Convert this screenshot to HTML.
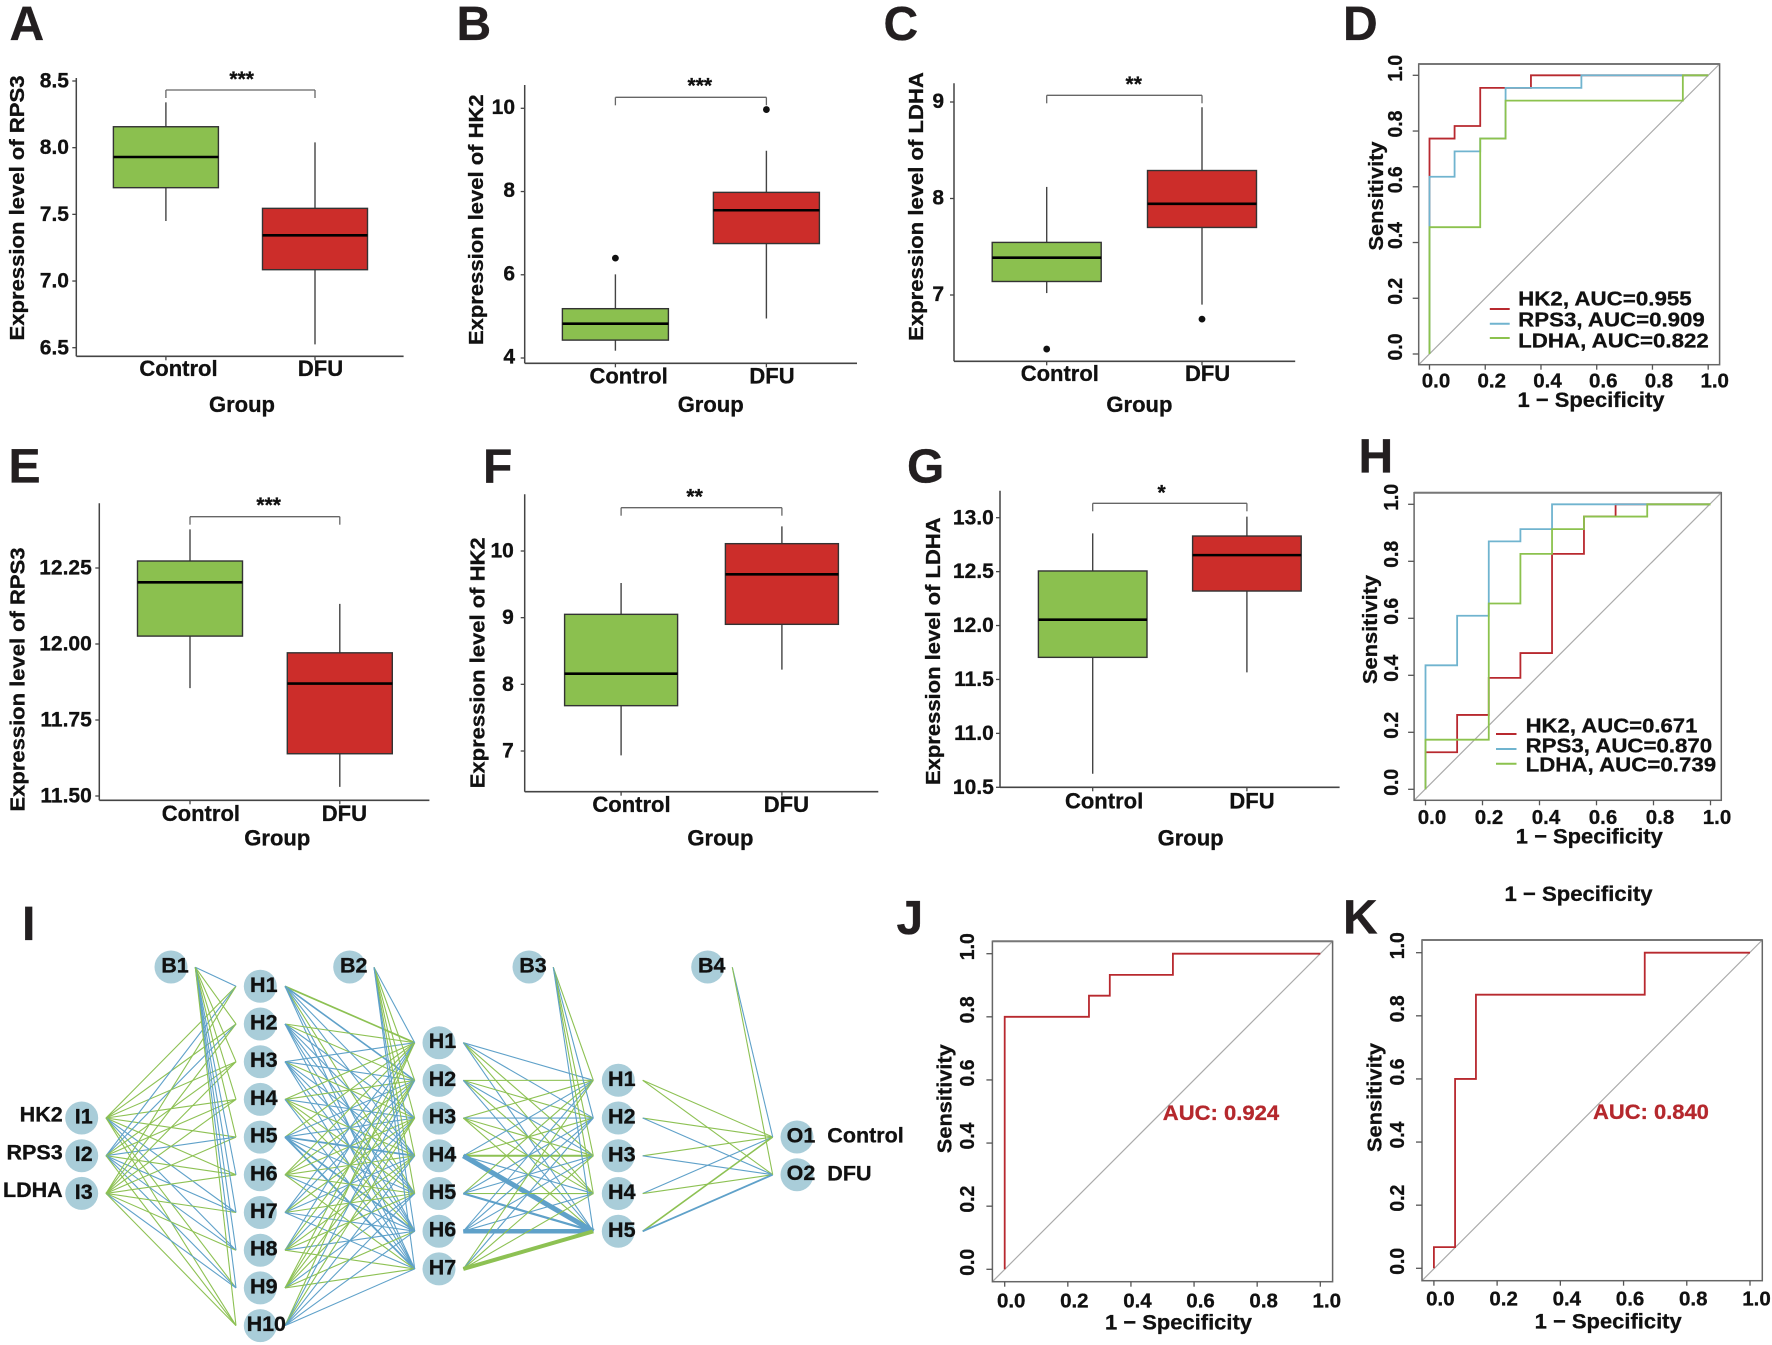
<!DOCTYPE html>
<html lang="en">
<head>
<meta charset="utf-8">
<title>Expression boxplots, ROC curves and neural network</title>
<style>
html,body{margin:0;padding:0;background:#fff;width:1772px;height:1345px;overflow:hidden}
svg{display:block;filter:blur(0.35px)}
text{font-family:"Liberation Sans",Arial,sans-serif;font-weight:700;fill:#111;stroke:#111;stroke-width:0.3px}
</style>
</head>
<body>
<svg id="figure" xmlns="http://www.w3.org/2000/svg" width="1772" height="1345" viewBox="0 0 1772 1345"></svg>
<script>
/* ---------- shared data ---------- */
const categories = ['Control', 'DFU'];

/* box statistics: [whisker low, q1, median, q3, whisker high] */
const panelAControl = [7.45, 7.70, 7.93, 8.157, 8.34];
const panelADfu = [6.525, 7.085, 7.343, 7.545, 8.04];
const panelATicks = [6.5, 7.0, 7.5, 8.0, 8.5];
const panelATickLabels = ['6.5', '7.0', '7.5', '8.0', '8.5'];

const panelBControl = [4.175, 4.43, 4.825, 5.185, 6.01];
const panelBDfu = [4.95, 6.75, 7.55, 7.98, 8.98];
const panelBControlOutliers = [6.40];
const panelBDfuOutliers = [9.97];
const panelBTicks = [4, 6, 8, 10];
const panelBTickLabels = ['4', '6', '8', '10'];

const panelCControl = [7.02, 7.14, 7.387, 7.545, 8.12];
const panelCDfu = [6.90, 7.70, 7.945, 8.29, 8.945];
const panelCControlOutliers = [6.44];
const panelCDfuOutliers = [6.75];
const panelCTicks = [7, 8, 9];
const panelCTickLabels = ['7', '8', '9'];

const panelEControl = [11.855, 12.026, 12.203, 12.273, 12.377];
const panelEDfu = [11.53, 11.639, 11.87, 11.971, 12.132];
const panelETicks = [11.5, 11.75, 12, 12.25];
const panelETickLabels = ['11.50', '11.75', '12.00', '12.25'];

const panelFControl = [6.935, 7.68, 8.16, 9.05, 9.52];
const panelFDfu = [8.22, 8.9, 9.65, 10.11, 10.37];
const panelFTicks = [7, 8, 9, 10];
const panelFTickLabels = ['7', '8', '9', '10'];

const panelGControl = [10.626, 11.705, 12.054, 12.506, 12.855];
const panelGDfu = [11.566, 12.32, 12.653, 12.83, 13.01];
const panelGTicks = [10.5, 11, 11.5, 12, 12.5, 13];
const panelGTickLabels = ['10.5', '11.0', '11.5', '12.0', '12.5', '13.0'];

/* ROC data */
const rocTicks = [0, 0.2, 0.4, 0.6, 0.8, 1.0];
const rocTickLabels = ['0.0', '0.2', '0.4', '0.6', '0.8', '1.0'];

const rocDHk2Fpr = [0, 0, 0.09, 0.09, 0.182, 0.182, 0.364, 0.364, 1];
const rocDHk2Tpr = [0, 0.773, 0.773, 0.818, 0.818, 0.955, 0.955, 1, 1];
const rocDRps3Fpr = [0, 0, 0.09, 0.09, 0.182, 0.182, 0.273, 0.273, 0.545, 0.545, 1];
const rocDRps3Tpr = [0, 0.636, 0.636, 0.727, 0.727, 0.773, 0.773, 0.955, 0.955, 1, 1];
const rocDLdhaFpr = [0, 0, 0.182, 0.182, 0.273, 0.273, 0.909, 0.909, 1];
const rocDLdhaTpr = [0, 0.455, 0.455, 0.773, 0.773, 0.909, 0.909, 1, 1];

const rocHHk2Fpr = [0, 0, 0.111, 0.111, 0.222, 0.222, 0.333, 0.333, 0.444, 0.444, 0.556, 0.556, 0.667, 0.667, 1];
const rocHHk2Tpr = [0, 0.13, 0.13, 0.261, 0.261, 0.391, 0.391, 0.478, 0.478, 0.826, 0.826, 0.957, 0.957, 1, 1];
const rocHRps3Fpr = [0, 0, 0.111, 0.111, 0.222, 0.222, 0.333, 0.333, 0.444, 0.444, 1];
const rocHRps3Tpr = [0, 0.435, 0.435, 0.609, 0.609, 0.87, 0.87, 0.913, 0.913, 1, 1];
const rocHLdhaFpr = [0, 0, 0.222, 0.222, 0.333, 0.333, 0.444, 0.444, 0.556, 0.556, 0.778, 0.778, 1];
const rocHLdhaTpr = [0, 0.174, 0.174, 0.652, 0.652, 0.826, 0.826, 0.913, 0.913, 0.957, 0.957, 1, 1];

const rocJFpr = [0, 0, 0.267, 0.267, 0.333, 0.333, 0.533, 0.533, 1];
const rocJTpr = [0, 0.8, 0.8, 0.867, 0.867, 0.933, 0.933, 1, 1];
const rocKFpr = [0, 0, 0.067, 0.067, 0.133, 0.133, 0.667, 0.667, 1];
const rocKTpr = [0, 0.067, 0.067, 0.6, 0.6, 0.867, 0.867, 1, 1];

/* Network: one string per source node, one letter per target (g = green, b = blue) */
const inputNames = ['I1', 'I2', 'I3'];
const inputGenes = ['HK2', 'RPS3', 'LDHA'];
const hidden1Names = ['H1', 'H2', 'H3', 'H4', 'H5', 'H6', 'H7', 'H8', 'H9', 'H10'];
const hidden2Names = ['H1', 'H2', 'H3', 'H4', 'H5', 'H6', 'H7'];
const hidden3Names = ['H1', 'H2', 'H3', 'H4', 'H5'];
const outputNames = ['O1', 'O2'];
const outputClasses = ['Control', 'DFU'];
const biasNames = ['B1', 'B2', 'B3', 'B4'];

const linksInputHidden1 = ['ggggggbbgg', 'bbggbgbbbg', 'ggggggggbg'];
const linksBias1Hidden1 = 'bggggbbbbg';
const linksHidden1Hidden2 = ['gbbbgbb', 'ggbbbbb', 'bbgbbbb', 'ggbgggb', 'gbbbbbb', 'gggggbg', 'bbgbgbb', 'bgbggbg', 'ggggbgg', 'gbgbbbb'];
const linksBias2Hidden2 = 'bggggbb';
const linksHidden2Hidden3 = ['bbggb', 'ggbgb', 'gbggg', 'bggbb', 'gbbgb', 'bbbbb', 'gbggg'];
const linksBias3Hidden3 = 'gbggb';
const linksHidden3Output = ['gg', 'gb', 'gb', 'bg', 'gb'];
const linksBias4Output = 'bg';
/* source index, target index, stroke weight */
const thickHidden2Hidden3 = [[3, 4, 5], [5, 4, 4.5], [6, 4, 4], [4, 4, 2.2], [3, 2, 2]];
const thickHidden1Hidden2 = [[4, 3, 1.8], [4, 5, 1.8], [4, 6, 1.8], [0, 0, 1.7], [0, 1, 1.6]];
const thickHidden3Output = [[4, 0, 1.6], [4, 1, 1.8]];

/* ---------- helpers ---------- */
const svgNS = 'http://www.w3.org/2000/svg';
const root = document.getElementById('figure');
const colGreen = '#8bc04f';
const colRed = '#cc2d2a';
const colRocRed = '#b8292f';
const colRocBlue = '#70b4cf';
const colRocGreen = '#8cc24e';
const colEdgeGreen = '#8dc153';
const colEdgeBlue = '#5fa1c9';
const colAxis = '#444';

function group(parent, name) {
  const el = document.createElementNS(svgNS, 'g');
  
  
  parent.appendChild(el);
  return el;
}
function line(parent, name, x1, y1, x2, y2, stroke, w) {
  const el = document.createElementNS(svgNS, 'line');
  
  
  el.setAttribute('x1', x1);
  el.setAttribute('y1', y1);
  el.setAttribute('x2', x2);
  el.setAttribute('y2', y2);
  el.setAttribute('stroke', stroke);
  el.setAttribute('stroke-width', w);
  parent.appendChild(el);
  return el;
}
function rect(parent, name, x, y, w, h, fill, stroke, sw) {
  const el = document.createElementNS(svgNS, 'rect');
  
  
  el.setAttribute('x', x);
  el.setAttribute('y', y);
  el.setAttribute('width', w);
  el.setAttribute('height', h);
  el.setAttribute('fill', fill);
  el.setAttribute('stroke', stroke);
  el.setAttribute('stroke-width', sw);
  parent.appendChild(el);
  return el;
}
function circle(parent, name, cx, cy, r, fill) {
  const el = document.createElementNS(svgNS, 'circle');
  
  
  el.setAttribute('cx', cx);
  el.setAttribute('cy', cy);
  el.setAttribute('r', r);
  el.setAttribute('fill', fill);
  parent.appendChild(el);
  return el;
}
/* horizontal text: yc is visual centre */
function label(parent, name, str, x, yc, size, anchor, len, fill) {
  const el = document.createElementNS(svgNS, 'text');
  
  
  el.setAttribute('x', x);
  el.setAttribute('y', yc + 0.36 * size);
  el.setAttribute('font-size', size);
  el.setAttribute('text-anchor', anchor || 'middle');
  if (len) {
    el.setAttribute('textLength', len);
    el.setAttribute('lengthAdjust', 'spacingAndGlyphs');
  }
  if (fill) {
    el.style.fill = fill;
    el.style.stroke = fill;
  }
  el.textContent = str;
  parent.appendChild(el);
  return el;
}
/* rotated -90 text centred at (xc, yc) */
function vlabel(parent, name, str, xc, yc, size, len, base) {
  const el = document.createElementNS(svgNS, 'text');
  
  
  el.setAttribute('transform', 'translate(' + xc + ' ' + yc + ') rotate(-90)');
  el.setAttribute('x', 0);
  el.setAttribute('y', base * size);
  el.setAttribute('font-size', size);
  el.setAttribute('text-anchor', 'middle');
  if (len) {
    el.setAttribute('textLength', len);
    el.setAttribute('lengthAdjust', 'spacingAndGlyphs');
  }
  el.textContent = str;
  parent.appendChild(el);
  return el;
}
function panelLetter(str, x, baseline) {
  const el = document.createElementNS(svgNS, 'text');
  
  
  el.setAttribute('x', x);
  el.setAttribute('y', baseline);
  el.setAttribute('font-size', 48);
  el.style.fill = '#231f20';
  el.style.stroke = '#231f20';
  el.textContent = str;
  root.appendChild(el);
}
function linearScale(d0, d1, r0, r1) {
  return function (v) { return r0 + (v - d0) * (r1 - r0) / (d1 - d0); };
}

/* ---------- box plot panel ---------- */
function drawBox(g, name, stats, cx, w, fill, y) {
  line(g, name + '-whisker', cx, y(stats[0]), cx, y(stats[4]), colAxis, 1.4);
  rect(g, name + '-box', cx - w / 2, y(stats[3]), w, y(stats[1]) - y(stats[3]), fill, '#333', 1.4);
  line(g, name + '-median', cx - w / 2, y(stats[2]), cx + w / 2, y(stats[2]), '#000', 2.6);
}
function drawBoxPanel(p) {
  const g = group(root, 'boxplot-panel-' + p.id);
  const y = linearScale(p.d0, p.d1, p.r0, p.r1);
  const catX = linearScale(0, 1, p.c0, p.c1);
  line(g, 'y-axis', p.axisX, p.top, p.axisX, p.bottom, colAxis, 1.5);
  line(g, 'x-axis', p.axisX, p.bottom, p.right, p.bottom, colAxis, 1.7);
  p.ticks.forEach(function (t, i) {
    line(g, 'y-tick', p.axisX - 4, y(t), p.axisX, y(t), colAxis, 1.3);
    label(g, 'y-tick-label', p.tickLabels[i], p.tickRight, y(t) - p.labelLift, 21, 'end');
  });
  categories.forEach(function (c, i) {
    line(g, 'x-tick', catX(i), p.bottom, catX(i), p.bottom + 4, colAxis, 1.3);
    label(g, 'x-tick-label', c, p.catLabelX[i], p.catLabelY, 22, 'middle');
  });
  label(g, 'x-axis-title', 'Group', p.groupX, p.groupY, 22, 'middle');
  vlabel(g, 'y-axis-title', p.title, p.titleX, p.titleY, 20, p.titleLen, 0.26);
  drawBox(g, 'control', p.control, catX(0), p.boxW, colGreen, y);
  drawBox(g, 'dfu', p.dfu, catX(1), p.boxW, colRed, y);
  (p.controlOut || []).forEach(function (v) {
    circle(g, 'control-outlier', catX(0), y(v), 3.4, '#111');
  });
  (p.dfuOut || []).forEach(function (v) {
    circle(g, 'dfu-outlier', catX(1), y(v), 3.4, '#111');
  });
  line(g, 'bracket-top', catX(0), p.brY, catX(1), p.brY, '#666', 1.3);
  line(g, 'bracket-left', catX(0), p.brY, catX(0), p.brY + 8, '#666', 1.3);
  line(g, 'bracket-right', catX(1), p.brY, catX(1), p.brY + 8, '#666', 1.3);
  const stars = label(g, 'significance-stars', p.stars, p.starX, p.starY, 21, 'middle');
  stars.setAttribute('y', p.starY + 10);
}

drawBoxPanel({id: 'a', control: panelAControl, dfu: panelADfu, ticks: panelATicks, tickLabels: panelATickLabels, labelLift: 1,
  d0: 6.5, d1: 8.5, r0: 347.7, r1: 81, axisX: 76.3, top: 78, bottom: 356.3, right: 403.6, tickRight: 69,
  c0: 165.9, c1: 315, boxW: 105, catLabelX: [178.5, 320.5], catLabelY: 368, groupX: 242, groupY: 404,
  title: 'Expression level of RPS3', titleX: 19, titleY: 208, titleLen: 265,
  brY: 90, stars: '***', starX: 241.7, starY: 76});

drawBoxPanel({id: 'b', control: panelBControl, dfu: panelBDfu, controlOut: panelBControlOutliers, dfuOut: panelBDfuOutliers,
  ticks: panelBTicks, tickLabels: panelBTickLabels, labelLift: 2,
  d0: 4, d1: 10, r0: 358, r1: 108.3, axisX: 524.7, top: 85, bottom: 363.3, right: 857, tickRight: 515,
  c0: 615.4, c1: 766.4, boxW: 106, catLabelX: [628.6, 772], catLabelY: 375.7, groupX: 710.7, groupY: 404,
  title: 'Expression level of HK2', titleX: 478, titleY: 219.7, titleLen: 250.7,
  brY: 97.3, stars: '***', starX: 699.8, starY: 82.7});

drawBoxPanel({id: 'c', control: panelCControl, dfu: panelCDfu, controlOut: panelCControlOutliers, dfuOut: panelCDfuOutliers,
  ticks: panelCTicks, tickLabels: panelCTickLabels, labelLift: 1.5,
  d0: 7, d1: 9, r0: 295, r1: 102, axisX: 954, top: 83.3, bottom: 361.3, right: 1295.2, tickRight: 944,
  c0: 1046.7, c1: 1202, boxW: 109, catLabelX: [1059.8, 1207.6], catLabelY: 373.3, groupX: 1139.4, groupY: 404,
  title: 'Expression level of LDHA', titleX: 918, titleY: 206.5, titleLen: 268.7,
  brY: 95.3, stars: '**', starX: 1133.7, starY: 81});

drawBoxPanel({id: 'e', control: panelEControl, dfu: panelEDfu, ticks: panelETicks, tickLabels: panelETickLabels, labelLift: 1,
  d0: 11.5, d1: 12.25, r0: 796, r1: 568, axisX: 99.3, top: 503.3, bottom: 800.3, right: 429.4, tickRight: 91.8,
  c0: 190, c1: 339.8, boxW: 105, catLabelX: [200.9, 344.4], catLabelY: 813.3, groupX: 277.3, groupY: 837.7,
  title: 'Expression level of RPS3', titleX: 19.4, titleY: 679.5, titleLen: 264,
  brY: 516.7, stars: '***', starX: 268.7, starY: 502});

drawBoxPanel({id: 'f', control: panelFControl, dfu: panelFDfu, ticks: panelFTicks, tickLabels: panelFTickLabels, labelLift: 1,
  d0: 7, d1: 10, r0: 751, r1: 551, axisX: 524.7, top: 494.3, bottom: 791.7, right: 878.3, tickRight: 513.8,
  c0: 621.1, c1: 781.9, boxW: 113, catLabelX: [631.5, 786.4], catLabelY: 804.3, groupX: 720.4, groupY: 837.7,
  title: 'Expression level of HK2', titleX: 479.2, titleY: 662.8, titleLen: 251,
  brY: 507.7, stars: '**', starX: 694.6, starY: 493.3});

drawBoxPanel({id: 'g', control: panelGControl, dfu: panelGDfu, ticks: panelGTicks, tickLabels: panelGTickLabels, labelLift: 1,
  d0: 10.5, d1: 13, r0: 787.3, r1: 517.7, axisX: 1000, top: 490.7, bottom: 787.3, right: 1339.6, tickRight: 993.8,
  c0: 1092.7, c1: 1246.9, boxW: 108.6, catLabelX: [1104.1, 1252], catLabelY: 800.7, groupX: 1190.6, groupY: 837.7,
  title: 'Expression level of LDHA', titleX: 935, titleY: 651.2, titleLen: 267.7,
  brY: 503.3, stars: '*', starX: 1161.6, starY: 489.3});

/* ---------- ROC panel ---------- */
function drawRocPanel(p) {
  const g = group(root, 'roc-panel-' + p.id);
  const x = linearScale(0, 1, p.x0, p.x1);
  const y = linearScale(0, 1, p.y0, p.y1);
  line(g, 'diagonal-reference', p.left, p.bottom, p.rightEdge, p.top, '#aaa', 1.2);
  p.series.forEach(function (s) {
    const el = document.createElementNS(svgNS, 'polyline');
    
    
    el.setAttribute('points', s.fpr.map(function (f, i) { return x(f) + ',' + y(s.tpr[i]); }).join(' '));
    el.setAttribute('fill', 'none');
    el.setAttribute('stroke', s.color);
    el.setAttribute('stroke-width', 1.8);
    g.appendChild(el);
  });
  rect(g, 'plot-frame', p.left, p.top, p.rightEdge - p.left, p.bottom - p.top, 'none', '#666', 1.5);
  line(g, 'plot-frame-top', p.left, p.top, p.rightEdge, p.top, '#777', 2);
  rocTicks.forEach(function (t, i) {
    line(g, 'y-tick', p.left - 6, y(t), p.left, y(t), '#555', 1.3);
    line(g, 'x-tick', x(t), p.bottom, x(t), p.bottom + 5, '#555', 1.3);
    vlabel(g, 'y-tick-label', rocTickLabels[i], p.yTickX, y(t) - 7, 20, 27, 0.36);
    label(g, 'x-tick-label', rocTickLabels[i], x(t) + 6.5, p.xTickY, 20.5, 'middle');
  });
  label(g, 'x-axis-title', '1 \u2212 Specificity', p.xTitleX, p.xTitleY, 21.5, 'middle', 147);
  vlabel(g, 'y-axis-title', 'Sensitivity', p.yTitleX, p.yTitleY, 20, 109, 0.26);
  (p.legend || []).forEach(function (it) {
    line(g, 'legend-line-' + it.series, p.legLineX0, it.lineY, p.legLineX1, it.lineY, it.color, 2);
    label(g, 'legend-entry-' + it.series, it.text, p.legTextX, it.textY, 20.5, 'start', it.len);
  });
  if (p.auc) label(g, 'auc-label', p.auc, p.aucX, p.aucY, 21, 'start', p.aucLen, '#b5282d');
}

drawRocPanel({id: 'd', left: 1418.7, rightEdge: 1719.6, top: 64, bottom: 364.7,
  x0: 1429.5, x1: 1708.2, y0: 354, y1: 75.3, yTickX: 1394.8, xTickY: 380,
  xTitleX: 1591, xTitleY: 399.3, yTitleX: 1378, yTitleY: 196,
  series: [
    {name: 'hk2', fpr: rocDHk2Fpr, tpr: rocDHk2Tpr, color: colRocRed},
    {name: 'rps3', fpr: rocDRps3Fpr, tpr: rocDRps3Tpr, color: colRocBlue},
    {name: 'ldha', fpr: rocDLdhaFpr, tpr: rocDLdhaTpr, color: colRocGreen}],
  legLineX0: 1489.8, legLineX1: 1509.7, legTextX: 1518.2,
  legend: [
    {series: 'hk2', text: 'HK2, AUC=0.955', color: colRocRed, lineY: 309, textY: 298.3, len: 173.5},
    {series: 'rps3', text: 'RPS3, AUC=0.909', color: colRocBlue, lineY: 323.7, textY: 319.3, len: 186.6},
    {series: 'ldha', text: 'LDHA, AUC=0.822', color: colRocGreen, lineY: 338, textY: 340, len: 190.6}]});

drawRocPanel({id: 'h', left: 1414.1, rightEdge: 1721.3, top: 492.7, bottom: 800.3,
  x0: 1425.5, x1: 1710.5, y0: 789.3, y1: 504.3, yTickX: 1390.8, xTickY: 816.7,
  xTitleX: 1589.3, xTitleY: 836, yTitleX: 1372, yTitleY: 629.5,
  series: [
    {name: 'hk2', fpr: rocHHk2Fpr, tpr: rocHHk2Tpr, color: colRocRed},
    {name: 'rps3', fpr: rocHRps3Fpr, tpr: rocHRps3Tpr, color: colRocBlue},
    {name: 'ldha', fpr: rocHLdhaFpr, tpr: rocHLdhaTpr, color: colRocGreen}],
  legLineX0: 1496, legLineX1: 1516.5, legTextX: 1525.6,
  legend: [
    {series: 'hk2', text: 'HK2, AUC=0.671', color: colRocRed, lineY: 734, textY: 725.3, len: 171.8},
    {series: 'rps3', text: 'RPS3, AUC=0.870', color: colRocBlue, lineY: 749, textY: 745, len: 186.6},
    {series: 'ldha', text: 'LDHA, AUC=0.739', color: colRocGreen, lineY: 763.7, textY: 764.3, len: 190.6}]});

drawRocPanel({id: 'j', left: 992.4, rightEdge: 1332.6, top: 941.3, bottom: 1281.7,
  x0: 1004.7, x1: 1320.3, y0: 1269.3, y1: 953.7, yTickX: 967, xTickY: 1300,
  xTitleX: 1178.5, xTitleY: 1321.7, yTitleX: 946.2, yTitleY: 1098.7,
  series: [{name: 'model', fpr: rocJFpr, tpr: rocJTpr, color: colRocRed}],
  auc: 'AUC: 0.924', aucX: 1162.8, aucY: 1112.3, aucLen: 116.4});

drawRocPanel({id: 'k', left: 1422, rightEdge: 1762.3, top: 940, bottom: 1280.7,
  x0: 1433.9, x1: 1750, y0: 1268.3, y1: 952.7, yTickX: 1396.8, xTickY: 1298.3,
  xTitleX: 1608.2, xTitleY: 1320.7, yTitleX: 1376.5, yTitleY: 1097.5,
  series: [{name: 'model', fpr: rocKFpr, tpr: rocKTpr, color: colRocRed}],
  auc: 'AUC: 0.840', aucX: 1593, aucY: 1111.3, aucLen: 115.9});

label(root, 'stray-x-axis-title', '1 \u2212 Specificity', 1578.5, 893.3, 21.5, 'middle', 148);

/* ---------- network panel ---------- */
const net = group(root, 'neural-network-diagram');
function edgeColour(ch) { return ch === 'g' ? colEdgeGreen : colEdgeBlue; }
function linkFan(name, x0, rowY0, links, x1, rowY1, thick) {
  links.forEach(function (row, i) {
    row.split('').forEach(function (ch, j) {
      let w = 1.1;
      (thick || []).forEach(function (t) { if (t[0] === i && t[1] === j) w = t[2]; });
      line(net, name, x0, rowY0(i), x1, rowY1(j), edgeColour(ch), w);
    });
  });
}
function rowScale(y0, step) { return function (i) { return y0 + i * step; }; }
const rowInput = rowScale(1118, 37.7);
const rowH1 = rowScale(986.3, 37.7);
const rowH2 = rowScale(1042.7, 37.7);
const rowH3 = rowScale(1080.3, 37.75);
const rowOut = rowScale(1137, 37.7);
const rowBias = rowScale(967.3, 0);

linkFan('edge-input-hidden1', 106, rowInput, linksInputHidden1, 236, rowH1);
linkFan('edge-bias1-hidden1', 195.3, rowBias, [linksBias1Hidden1], 236, rowH1);
linkFan('edge-hidden1-hidden2', 285, rowH1, linksHidden1Hidden2, 414.7, rowH2, thickHidden1Hidden2);
linkFan('edge-bias2-hidden2', 374, rowBias, [linksBias2Hidden2], 414.7, rowH2);
linkFan('edge-hidden2-hidden3', 463.3, rowH2, linksHidden2Hidden3, 593.3, rowH3, thickHidden2Hidden3);
linkFan('edge-bias3-hidden3', 553.3, rowBias, [linksBias3Hidden3], 593.3, rowH3);
linkFan('edge-hidden3-output', 642.7, rowH3, linksHidden3Output, 772.7, rowOut, thickHidden3Output);
linkFan('edge-bias4-output', 732.3, rowBias, [linksBias4Output], 772.7, rowOut);

function node(name, str, cx, cy, dx) {
  circle(net, name, cx, cy, 16.5, '#a9cdd9');
  label(net, name + '-label', str, cx + dx, cy - 2.2, 21.5, 'middle');
}
inputNames.forEach(function (n, i) {
  node('input-node-' + n.toLowerCase(), n, 81.7, rowInput(i), 2);
  label(net, 'input-gene-label', inputGenes[i], 62.7, rowInput(i) - 4, 21.5, 'end');
});
hidden1Names.forEach(function (n, i) {
  node('layer1-node-' + n.toLowerCase(), n, 260.3, rowH1(i), n === 'H10' ? 6 : 3.5);
});
hidden2Names.forEach(function (n, i) {
  node('layer2-node-' + n.toLowerCase(), n, 439, rowH2(i), 3.5);
});
hidden3Names.forEach(function (n, i) {
  node('layer3-node-' + n.toLowerCase(), n, 618.3, rowH3(i), 3.5);
});
outputNames.forEach(function (n, i) {
  node('output-node-' + n.toLowerCase(), n, 797, rowOut(i), 4);
  label(net, 'output-class-label', outputClasses[i], 827.3, rowOut(i) - 2, 21.5, 'start');
});
node('bias-node-b1', biasNames[0], 171, 967, 4);
node('bias-node-b2', biasNames[1], 349.7, 967, 4);
node('bias-node-b3', biasNames[2], 529, 967, 4);
node('bias-node-b4', biasNames[3], 707.7, 967, 4);

/* ---------- panel letters ---------- */
panelLetter('A', 9.5, 40);
panelLetter('B', 456.5, 40);
panelLetter('C', 883.5, 40);
panelLetter('D', 1343, 40);
panelLetter('E', 8.5, 482.3);
panelLetter('F', 483, 482.3);
panelLetter('G', 907, 482.3);
panelLetter('H', 1358.5, 472.7);
panelLetter('I', 22, 940);
panelLetter('J', 896.5, 934);
panelLetter('K', 1343, 933.3);
</script>
</body>
</html>
